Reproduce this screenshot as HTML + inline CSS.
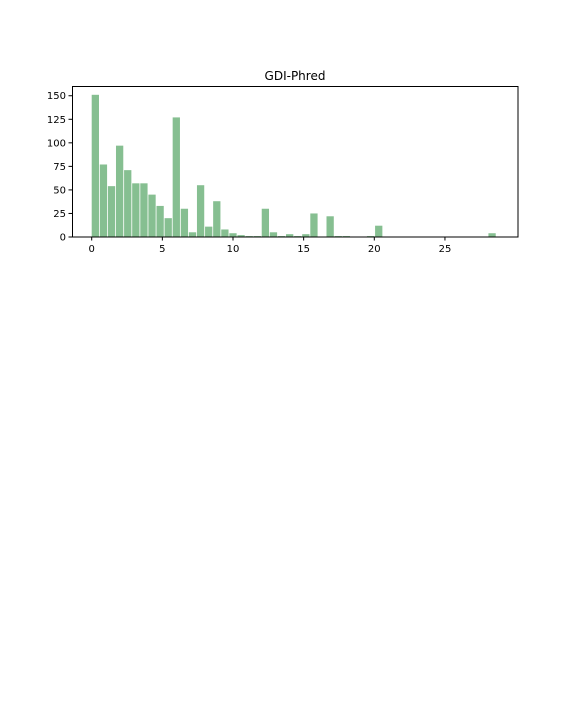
<!DOCTYPE html>
<html><head><meta charset="utf-8"><style>
body{margin:0;background:#fff;width:576px;height:720px;overflow:hidden}
svg{display:block}
text{font-family:"DejaVu Sans","Liberation Sans",sans-serif;fill:#000}
</style></head><body>
<svg id="chart" width="576" height="720">
<text x="295" y="80" font-size="12" text-anchor="middle">GDI-Phred</text>
<g id="bars"></g>
<rect x="72.5" y="86.5" width="445.5" height="150.5" fill="none" stroke="#000" stroke-width="1"/>
<g id="xaxis"></g>
<g id="yaxis"></g>
</svg>
<script>
const counts = [151,77,54,97,71,57,57,45,33,20,127,30,5,55,11,38,8,4,2,1,1,30,5,1,3,1,3,25,0,22,1,1,0,0,1,12,0,0,0,0,0,0,0,0,0,0,0,0,0,4];
const binStart = 0;
const binWidth = 0.573;
const xTicks = [0,5,10,15,20,25];
const yTicks = [0,25,50,75,100,125,150];
const NS='http://www.w3.org/2000/svg';
const x = v => 91.7 + v*14.13;
const y = v => 237 - v*0.9417;
const bars=document.getElementById('bars');
counts.forEach((c,i)=>{
  if(c<=0) return;
  const x0=x(binStart+i*binWidth), x1=x(binStart+(i+0.9)*binWidth);
  const r=document.createElementNS(NS,'rect');
  r.setAttribute('x',x0);r.setAttribute('width',x1-x0);
  r.setAttribute('y',y(c));r.setAttribute('height',y(0)-y(c));
  r.setAttribute('fill','#86bf91');
  
  
  bars.appendChild(r);
});
const xa=document.getElementById('xaxis');
xTicks.forEach(t=>{
  const l=document.createElementNS(NS,'line');
  l.setAttribute('x1',x(t));l.setAttribute('x2',x(t));l.setAttribute('y1',237);l.setAttribute('y2',240.5);l.setAttribute('stroke','#000');
  
  
  xa.appendChild(l);
  const s=document.createElementNS(NS,'text');
  s.setAttribute('x',x(t));s.setAttribute('y',252);s.setAttribute('font-size','10');s.setAttribute('text-anchor','middle');s.textContent=t;
  
  
  xa.appendChild(s);
});
const ya=document.getElementById('yaxis');
yTicks.forEach(t=>{
  const l=document.createElementNS(NS,'line');
  l.setAttribute('x1',68.5);l.setAttribute('x2',72.5);l.setAttribute('y1',y(t));l.setAttribute('y2',y(t));l.setAttribute('stroke','#000');
  
  
  ya.appendChild(l);
  const s=document.createElementNS(NS,'text');
  s.setAttribute('x',66);s.setAttribute('y',y(t)+3.5);s.setAttribute('font-size','10');s.setAttribute('text-anchor','end');s.textContent=t;
  
  
  ya.appendChild(s);
});
</script>
</body></html>
